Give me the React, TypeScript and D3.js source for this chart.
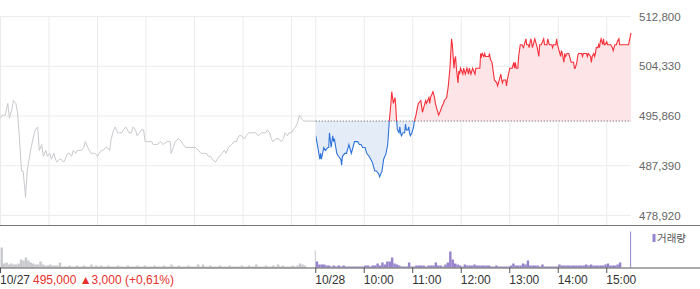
import React from "react";
import * as d3 from "d3";

// ---- data ----
const prevClose = 495000;
const headerText = "495,000 ▲3,000 (+0,61%)";

const yTickValues = [478920, 487390, 495860, 504330, 512800];
const xTickMinutes = [0, 390, 450, 510, 570, 630, 690, 750];
const xTickLabels = ["10/27", "10/28", "10:00", "11:00", "12:00", "13:00", "14:00", "15:00"];
const gridMinutes = [0, 60, 120, 180, 240, 300, 360, 390, 450, 510, 570, 630, 690, 750];

// [minutes since 09:00, price]
const day1: [number, number][] = [
  [0,495500],[2,496000],[6,496000],[9,498000],[11,495500],[14,497000],[16,498500],[19,498000],[21,496500],[23,493000],
  [26,486500],[28,486500],[31,482000],[33,486500],[36,489000],[38,490500],[41,492500],[43,493500],[46,494000],[48,490000],
  [51,491000],[53,489000],[56,490000],[58,489000],[61,489500],[63,488500],[66,489500],[68,488500],[70,488000],[73,488500],
  [75,488500],[78,488000],[80,488500],[83,489500],[85,489500],[88,489000],[90,490000],[93,489500],[95,490000],[98,490000],
  [100,490000],[103,490500],[105,491500],[108,490500],[110,490000],[112,489500],[115,489500],[117,489500],[120,489000],[122,489500],
  [125,490000],[127,490000],[130,490500],[132,490500],[135,490000],[137,492000],[140,493500],[142,494000],[145,493000],[147,493000],
  [150,493000],[152,493500],[155,494000],[157,493500],[159,493000],[162,493000],[164,494000],[167,493500],[169,492500],[172,493000],
  [174,493500],[177,493500],[179,491500],[182,491500],[184,491500],[187,491500],[189,491000],[192,491000],[194,491000],[198,491500],
  [201,491000],[206,491500],[210,491500],[211,489500],[214,490500],[216,491500],[220,492000],[224,491500],[226,491000],[229,490500],
  [232,490500],[236,490500],[241,490500],[245,490000],[248,489500],[251,489500],[255,489500],[257,489000],[260,489000],[262,488500],
  [266,488000],[268,488500],[271,489000],[274,489500],[277,490000],[279,489500],[282,490500],[286,491000],[289,491500],[292,491500],
  [295,492500],[298,492500],[302,492000],[304,492500],[307,493000],[310,493000],[313,493000],[316,493000],[319,492500],[323,493000],
  [325,493000],[328,493000],[330,493500],[333,493000],[335,492000],[337,491500],[341,492000],[344,492000],[347,491500],[350,492000],
  [352,493000],[355,492500],[357,493000],[360,493000],[362,493500],[365,494000],[367,494500],[370,496000],[372,495500],[375,495000],
  [377,495000],[390,495000],
];

const day2: [number, number][] = [
  [0,492500],[2,491000],[5,488500],[6,489500],[7,488500],[10,490500],[12,490000],[15,490500],[16,490500],[17,493000],
  [19,490500],[21,492500],[22,491500],[23,492000],[26,489500],[28,489000],[31,488500],[32,487500],[33,489000],[36,489500],
  [38,489500],[41,491000],[42,490500],[44,489500],[46,490500],[48,491500],[51,491500],[52,491500],[54,491000],[56,491000],
  [58,490500],[61,490500],[63,489500],[66,489000],[68,488500],[70,488000],[73,486500],[75,486500],[78,486000],[79,485500],
  [82,486500],[84,488500],[87,489500],[89,491000],[90,493000],[91,495000],[93,498000],[94,500000],[95,499000],[96,498000],
  [98,499000],[99,497500],[100,495000],[101,493500],[103,493000],[104,494000],[105,493000],[106,492500],[108,493000],[110,493000],
  [111,494500],[112,493500],[114,493500],[115,494000],[116,493000],[117,492500],[119,493000],[121,494000],[122,495000],[124,496000],
  [126,497500],[127,498000],[130,498500],[131,497500],[132,496500],[135,498000],[136,498500],[137,498000],[140,499000],[141,498000],
  [142,499000],[145,500000],[147,499000],[148,498000],[150,497000],[152,496000],[155,497000],[156,497500],[158,498000],[159,498500],
  [162,499000],[164,501000],[166,504000],[167,506500],[168,509000],[169,508000],[171,504000],[172,505500],[173,506000],[174,504000],
  [176,501500],[177,503500],[178,503000],[179,504000],[182,503000],[183,504000],[185,503000],[187,504000],[189,503000],[190,504000],
  [192,503000],[194,504000],[197,503000],[198,504000],[203,504000],[204,506500],[205,506000],[206,506500],[208,506000],[209,506500],
  [210,506000],[211,506000],[213,506000],[214,506000],[215,506500],[216,505500],[218,505000],[219,504000],[221,502000],[224,501500],
  [225,501000],[226,501500],[227,502000],[229,503000],[230,502000],[231,501500],[232,502000],[234,502000],[235,502000],[236,501000],
  [237,502000],[240,504000],[241,504000],[243,504000],[245,505000],[246,504000],[247,505000],[248,504000],[250,504000],[251,506000],
  [253,508000],[255,508000],[257,507500],[258,508000],[260,509000],[261,508000],[263,508000],[264,507500],[266,509000],[267,508500],
  [268,507500],[271,509000],[273,508000],[274,507500],[276,506000],[277,508000],[278,508000],[279,508000],[282,509000],[283,508000],
  [286,508000],[287,509000],[289,508000],[292,508000],[293,507500],[294,508000],[297,508000],[298,509000],[299,508000],[300,507500],
  [302,506500],[303,506000],[304,507000],[305,506500],[307,505000],[308,506500],[309,506000],[311,506500],[313,506500],[314,506000],
  [315,505500],[316,505000],[318,505000],[319,505000],[320,504000],[321,504000],[323,505000],[324,506000],[325,506500],[328,506500],
  [329,506500],[330,506000],[331,506500],[332,506500],[335,506500],[336,506000],[337,506500],[340,506000],[341,505000],[342,506000],
  [344,506500],[345,506000],[346,506500],[347,507500],[349,507500],[350,508000],[351,507500],[352,508500],[353,509000],[355,508000],
  [356,509000],[357,508000],[358,508000],[360,508500],[361,508000],[363,508000],[365,508000],[367,507500],[368,507000],[370,508000],
  [372,508000],[373,508500],[375,509000],[376,508000],[378,508000],[386,508000],[387,508000],[390,510000],
];

// volume per 3-minute bin (x10k shares), 130 bins per day, plus closing auction
const day1Volume = [
  20,4,5,3,4,3,3,4,8,7, 10,7,5,4,3,3,6,3,2,2, 3,2,2,2,5,1,1,1,2,1,
  1,2,1,1,2,1,1,3,1,2, 1,2,1,1,2,1,1,1,2,1, 1,1,2,1,1,1,2,1,1,2,
  1,1,1,2,1,1,1,2,1,1, 3,1,1,2,1,1,1,2,1,1, 1,3,1,3,1,1,2,1,1,1,
  2,1,1,1,2,1,1,1,1,2, 1,1,2,1,1,3,1,1,1,2, 1,1,2,1,3,1,2,1,1,1,
  2,1,2,4,3,2,0,0,0,0,
];
const day1CloseVolume = 17;
const day2Volume = [
  6,3,3,3,2,2,1,2,1,2, 1,2,1,1,1,1,1,1,1,1, 2,2,1,2,2,4,2,5,3,6,
  6,10,4,3,2,1,1,1,5,1, 1,2,2,2,2,1,2,2,2,5, 2,2,1,3,5,16,8,4,3,2,
  1,3,2,2,2,3,2,2,2,2, 2,2,1,1,2,1,1,1,1,1, 2,4,2,2,2,4,3,7,2,2,
  2,2,1,3,1,1,1,1,1,1, 3,2,2,2,2,2,2,2,2,2, 2,3,2,3,2,2,2,2,2,3,
  4,2,2,2,3,5,0,0,0,0,
];
const day2CloseVolume = 36;

const W = 700;
const H = 289;
const FONT = "'Liberation Sans', Arial, 'Noto Sans CJK KR', sans-serif";

export default function App() {
  const plotLeft = 0.5;
  const plotRight = 631;
  const plotTop = 16.5;
  const plotBottom = 225.5;
  const volBase = 267.5;

  const x = d3.scaleLinear().domain([0, 780]).range([plotLeft, plotRight]);
  const y = d3.scaleLinear().domain([478920, 512800]).range([215.5, 16.5]);
  const yVol = d3.scaleLinear().domain([0, 37]).range([volBase, 230.5]);

  const yBase = y(prevClose);

  const line1 = d3.line<[number, number]>().x((d) => x(d[0])).y((d) => y(d[1]));
  const line2 = d3.line<[number, number]>().x((d) => x(390 + d[0])).y((d) => y(d[1]));
  const area2 = d3
    .area<[number, number]>()
    .x((d) => x(390 + d[0]))
    .y0(yBase)
    .y1((d) => y(d[1]));

  const binW = x(3) - x(0);
  const d2Start = x(390);

  return (
    <svg
      width={W}
      height={H}
      style={{ position: "absolute", left: 0, top: 0, background: "#fff" }}
      fontFamily={FONT}
    >
      <defs>
        <clipPath id="above">
          <rect x={d2Start} y={0} width={plotRight - d2Start + 2} height={yBase} />
        </clipPath>
        <clipPath id="below">
          <rect x={d2Start} y={yBase} width={plotRight - d2Start + 2} height={plotBottom - yBase} />
        </clipPath>
      </defs>

      {yTickValues.map((v) => (
        <line key={"hg" + v} x1={0} x2={plotRight} y1={y(v)} y2={y(v)} stroke="#ebebeb" />
      ))}
      {gridMinutes.map((m) => (
        <line key={"vg" + m} x1={x(m)} x2={x(m)} y1={plotTop} y2={plotBottom} stroke="#ebebeb" />
      ))}

      <path d={area2(day2) || ""} fill="#fde4e6" clipPath="url(#above)" />
      <path d={area2(day2) || ""} fill="#e4ecf8" clipPath="url(#below)" />

      <path d={line1(day1) || ""} fill="none" stroke="#c8c9cd" strokeWidth={1} />

      <line x1={d2Start} x2={plotRight} y1={yBase} y2={yBase} stroke="#555" strokeDasharray="1,2" />

      <path d={line2(day2) || ""} fill="none" stroke="#f5303a" strokeWidth={1.1} clipPath="url(#above)" />
      <path d={line2(day2) || ""} fill="none" stroke="#2e73d8" strokeWidth={1.1} clipPath="url(#below)" />

      <line x1={0} x2={W} y1={plotBottom} y2={plotBottom} stroke="#73777c" strokeWidth={1} />

      {yTickValues.map((v) => (
        <text key={"yl" + v} x={639} y={y(v)} dy="0.36em" fontSize={11.5} fill="#666">
          {d3.format(",")(v)}
        </text>
      ))}

      {day1Volume.map((v, i) => (
        <rect key={"v1" + i} x={x(i * 3)} y={yVol(v)} width={binW} height={volBase - yVol(v)} fill="#c8c9cd" />
      ))}
      <rect x={x(389.5) - 0.5} y={yVol(day1CloseVolume)} width={1} height={volBase - yVol(day1CloseVolume)} fill="#c8c9cd" />
      {day2Volume.map((v, i) => (
        <rect key={"v2" + i} x={x(390 + i * 3)} y={yVol(v)} width={binW} height={volBase - yVol(v)} fill="#9683cb" />
      ))}
      <rect x={x(779.5) - 0.5} y={yVol(day2CloseVolume)} width={1} height={volBase - yVol(day2CloseVolume)} fill="#9683cb" />

      <rect x={652.5} y={234} width={3} height={8} fill="#9683cb" />
      <text x={657} y={242} fontSize={10.5} fill="#555" fontFamily="'Noto Sans CJK KR', sans-serif">
        거래량
      </text>

      <line x1={0} x2={W} y1={volBase + 0.5} y2={volBase + 0.5} stroke="#555" />
      {xTickMinutes.map((m, i) => (
        <g key={"xt" + m}>
          <line x1={x(m)} x2={x(m)} y1={volBase} y2={volBase + 5.5} stroke="#555" />
          <text x={x(m) - 0.5} y={284} fontSize={12} fill="#333">
            {xTickLabels[i]}
          </text>
        </g>
      ))}
      <text x={33} y={284} fontSize={12} fill="#e8302c">
        {headerText}
      </text>
    </svg>
  );
}
